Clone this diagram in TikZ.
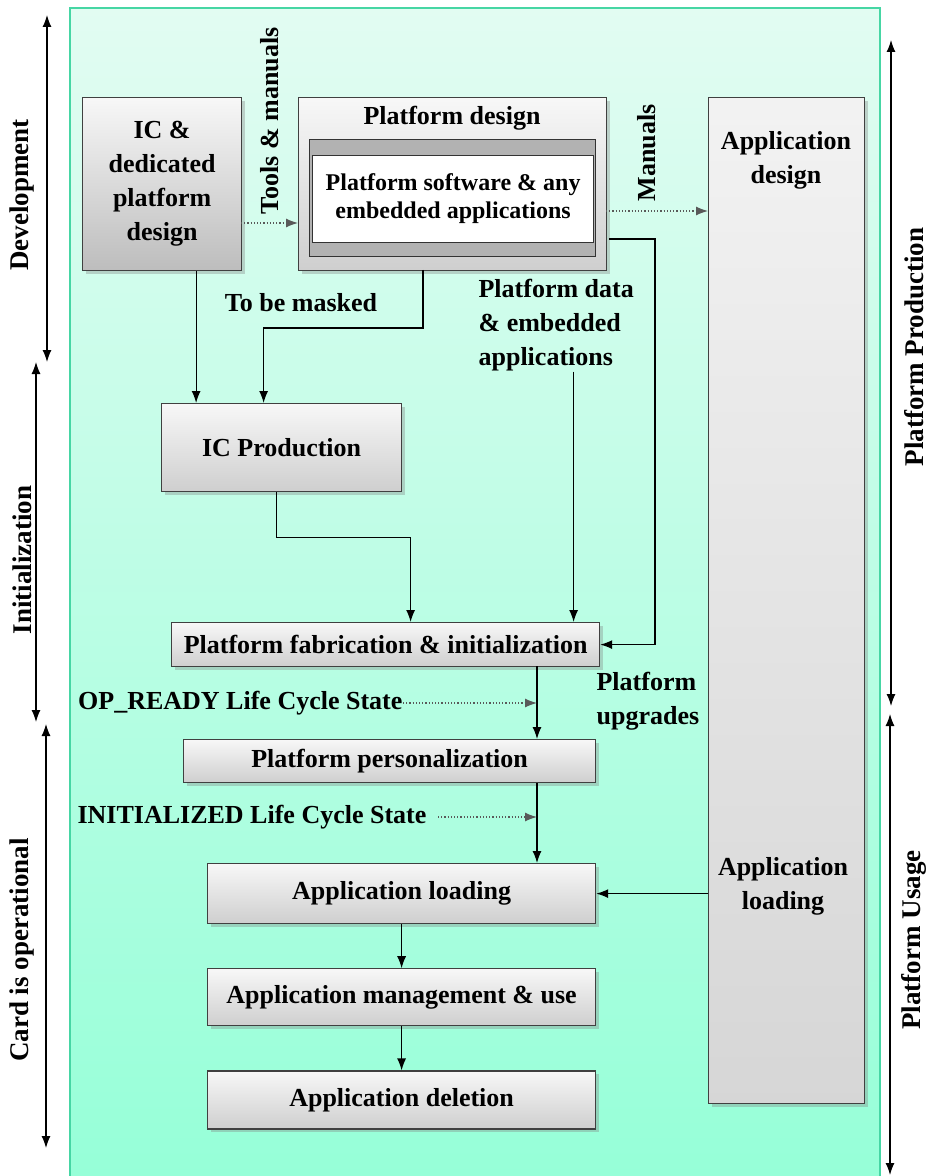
\documentclass[tikz,border=0pt]{standalone}
\usepackage{fontspec}
\setmainfont{Liberation Serif}
\usetikzlibrary{positioning, shadows, arrows.meta}
\definecolor{mintTop}{RGB}{226,252,242}
\definecolor{mintBot}{RGB}{150,255,216}
\definecolor{mintEdge}{RGB}{70,214,164}

\begin{document}
\begin{tikzpicture}[x = 0.5pt, y = -0.5pt, node distance = 22pt, line width = 0.6pt,
  box/.style = {rectangle, draw = black!75, top color = gray!6, bottom color = gray!38, drop shadow = {shadow xshift = 1.5pt, shadow yshift = -1.5pt, opacity = 0.35}, inner sep = 0pt, anchor = north west, align = center, font = \bfseries\fontsize{13}{17}\selectfont},
  txt/.style = {font = \bfseries\fontsize{13}{17}\selectfont, inner sep = 0pt},
  side/.style = {txt, font = \bfseries\fontsize{13.5}{17}\selectfont, rotate = 90},
  link/.style = {-{Latex[length = 6pt, width = 4.5pt]}},
  hint/.style = {densely dotted, black!65, -{Latex[length = 6pt, width = 4.5pt]}},
  span/.style = {{Latex[length = 6pt, width = 4.5pt]}-{Latex[length = 6pt, width = 4.5pt]}}]
  \useasboundingbox (0,0) rectangle (930,1176);
  % background
  \shade [top color = mintTop, bottom color = mintBot] (70,8) rectangle (880,1176);
  \draw [mintEdge, line width = 1pt] (70,1176) -- (70,8) -- (880,8) -- (880,1176);

  % nodes
  \node [box, bottom color = gray!52, minimum width = 79.5pt, minimum height = 86.5pt] (ic) at (82,97) {IC \&\\dedicated\\platform\\design};
  \node [box, minimum width = 154pt, minimum height = 86.5pt] (pd) at (298,97) {};
  \node [txt] (pdtitle) at (452,118) {Platform design};
  \node [rectangle, draw = black!80, fill = gray!60, anchor = north west, minimum width = 143pt, minimum height = 58.5pt] (pdframe) at (309,139) {};
  \node [rectangle, draw = black!80, fill = white, anchor = north west, inner sep = 0pt, minimum width = 140.5pt, minimum height = 43.5pt, align = center, font = \bfseries\fontsize{12}{14}\selectfont] (psw) at (312,155) {Platform software \& any\\embedded applications};

  \node [box, top color = gray!10, bottom color = gray!32, minimum width = 78pt, minimum height = 503pt] (appcol) at (708,97) {};
  \node [txt, align = center] (appdes) at (786,160) {Application\\design};
  \node [txt, align = center] (apptxt) at (783,886) {Application\\loading};

  \node [box, minimum width = 120pt, minimum height = 44pt] (icp) at (161,403) {IC Production};
  \node [box, minimum width = 214pt, minimum height = 22pt] (fab) at (171,622) {Platform fabrication \& initialization};
  \node [box, minimum width = 206pt, minimum height = 21.5pt] (pers) at (183,739) {Platform personalization};
  \node [box, minimum width = 194pt, minimum height = 30pt] (apload) at (207,863) {Application loading};
  \node [box, anchor = north, minimum width = 194pt, minimum height = 28.5pt] [below = of apload] (apmgmt) {Application management \& use};
  \node [box, anchor = north, minimum width = 194pt, minimum height = 29pt] [below = of apmgmt] (apdel) {Application deletion};

  % labels
  \node [side, font = \bfseries\fontsize{13}{17}\selectfont] (tools) at (270,121) {Tools \& manuals};
  \node [side, font = \bfseries\fontsize{13}{17}\selectfont] (manuals) at (647,153) {Manuals};
  \node [txt] (masked) at (301,303) {To be masked};
  \node [txt, anchor = west, align = left] (pdata) at (478,325) {Platform data\\\& embedded\\applications};
  \node [txt, anchor = west, align = left] (upgr) at (596,701) {Platform\\upgrades};
  \node [txt, anchor = east] (opr) at (403,703) {OP\_READY Life Cycle State};
  \node [txt, anchor = west] (init) at (77,817) {INITIALIZED Life Cycle State};

  \node [side] (dev) at (22,195) {Development};
  \node [side] (initl) at (22,560) {Initialization};
  \node [side] (card) at (22,950) {Card is operational};
  \node [side] (pprod) at (914,347) {Platform Production};
  \node [side] (puse) at (914,940) {Platform Usage};

  % edges
  \coordinate (toolsout) at (241,223);
  \draw [hint] (toolsout) -- (pd.west |- toolsout);
  \coordinate (manout) at (606,211);
  \draw [hint] (manout) -- (appcol.west |- manout);

  \draw [link] ([xshift = 17pt]ic.south) -- ([xshift = 17pt]ic.south |- icp.north);
  \coordinate (maskout) at (423,270);
  \draw [link] (maskout) -- ++(0,58) -| ([xshift = -9pt]icp.north);
  \draw [link] ([xshift = -2.5pt]icp.south) -- ++(0,45) -| ([xshift = 12.5pt]fab.north);
  \draw [link] ([xshift = 94pt]fab.north |- pdata.south) -- ([xshift = 94pt]fab.north);
  \coordinate (upgout) at (609,239);
  \draw [link] (upgout) -- ++(46,0) |- (fab.east);

  \coordinate (spine) at (537,666);
  \draw [link] (spine) -- (spine |- pers.north);
  \draw [link] (spine |- pers.south) -- (spine |- apload.north);
  \draw [hint] (opr.east) -- (spine |- opr.east);
  \draw [hint] ([xshift = 5.5pt]init.east) -- (spine |- init.east);

  \draw [link] (appcol.west |- apload.east) -- (apload.east);
  \draw [link] (apload.south) -- (apmgmt.north);
  \draw [link] (apmgmt.south) -- (apdel.north);

  % phases
  \coordinate (devtop) at (47,15);
  \coordinate (devbot) at (47,362);
  \draw [span] (devtop) -- (devbot);
  \coordinate (initop) at (36,362);
  \coordinate (inibot) at (36,722);
  \draw [span] (initop) -- (inibot);
  \coordinate (cardtop) at (46,724);
  \coordinate (cardbot) at (46,1148);
  \draw [span] (cardtop) -- (cardbot);
  \coordinate (prodtop) at (891,40);
  \coordinate (prodbot) at (891,706);
  \draw [span] (prodtop) -- (prodbot);
  \coordinate (usetop) at (890,714);
  \coordinate (usebot) at (890,1175);
  \draw [span] (usetop) -- (usebot);
\end{tikzpicture}
\end{document}
